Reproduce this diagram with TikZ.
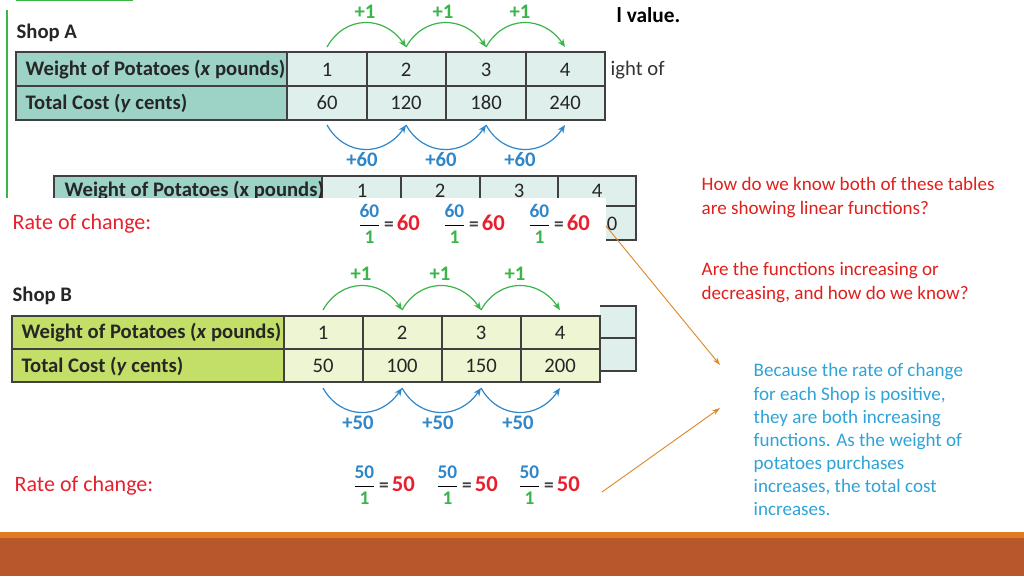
\documentclass[tikz,border=0pt]{standalone}
\usepackage{amsmath}
\usepackage{fontspec}
\setmainfont{Carlito}
\usetikzlibrary{arrows.meta}
\definecolor{tealH}{HTML}{9DD3C7}
\definecolor{tealC}{HTML}{DFF0EC}
\definecolor{limeH}{HTML}{C3DF68}
\definecolor{limeC}{HTML}{EEF5D2}
\definecolor{arcG}{HTML}{3BB54A}
\definecolor{arcB}{HTML}{2F86C8}
\definecolor{rocR}{HTML}{E8202E}
\definecolor{qRed}{HTML}{E0201C}
\definecolor{ansB}{HTML}{2FA3D8}
\definecolor{orgL}{HTML}{E0892A}
\definecolor{barL}{HTML}{E07B22}
\definecolor{barD}{HTML}{B8562C}
\newcommand{\rfrac}[2]{$\dfrac{\text{\textcolor{arcB}{\bfseries #1}}}{\text{\textcolor{arcG}{\bfseries 1}}}$\,\textcolor{black!75}{\bfseries =}\,{\fontsize{17}{19}\selectfont\textcolor{rocR}{#2}}}
\begin{document}
\begin{tikzpicture}[x=0.75pt,y=-0.75pt,
  tline/.style={draw=black!75,line width=1pt},
  ttext/.style={font=\fontsize{15.5}{17}\selectfont,text=black!85},
  hdtext/.style={font=\fontsize{15.5}{17}\selectfont\bfseries,text=black!85,anchor=west},
  lbl/.style={font=\fontsize{15.5}{17}\selectfont\bfseries,text=black!85,anchor=west},
  arcg/.style={draw=arcG,line width=0.9pt,-{Stealth[length=6pt,width=5pt]}},
  arcb/.style={draw=arcB,line width=0.9pt,-{Stealth[length=6pt,width=5pt]}},
  plusg/.style={font=\fontsize{15.5}{17}\selectfont\bfseries,text=arcG},
  plusb/.style={font=\fontsize{15.5}{17}\selectfont\bfseries,text=arcB},
  roc/.style={font=\fontsize{16.5}{18}\selectfont,text=rocR,anchor=west},
  frac/.style={font=\fontsize{14.5}{16}\selectfont\bfseries},
  qtext/.style={font=\fontsize{14.3}{17.3}\selectfont,text=qRed,anchor=north west,align=left},
  atext/.style={font=\fontsize{14.3}{17.3}\selectfont,text=ansB,anchor=north west,align=left},
  conn/.style={draw=orgL,line width=0.7pt,-{Stealth[length=6pt,width=4pt]}}]
\useasboundingbox (0,0) rectangle (1024,576);
\fill[white] (0,0) rectangle (1024,576);
\draw[arcG,line width=1pt] (16,0.5) -- (133,0.5);
\draw[arcG,line width=1pt] (7,10) -- (7,250);
\node[font=\fontsize{16}{18}\selectfont\bfseries,anchor=west] (lv) at (612,15) {l value.};
\node[font=\fontsize{15.5}{17}\selectfont,text=black!80,anchor=west] (io) at (606,70) {ight of};
% partial table behind
\fill[tealH] (54,176) rectangle (322,240);
\fill[tealC] (322,176) rectangle (636,240);
\draw[tline] (54,176) rectangle (636,240);
\draw[tline] (54,206)--(636,206);
\foreach \x in {322,401,480,558}{\draw[tline] (\x,176)--(\x,240);}
\node[hdtext] (ph) at (60,191) {Weight of Potatoes (x pounds)};
\foreach \v/\x in {1/362,2/440,3/519,4/597}{\node[ttext] (p\v) at (\x,191) {\v};}
\fill[white] (0,198) rectangle (606,252);
\node[ttext] (pz) at (612,224) {0};
% Shop A
\node[lbl] (sa) at (12,33) {Shop A};
\fill[tealH] (16,52) rectangle (287,120);
\fill[tealC] (287,52) rectangle (605,120);
\draw[tline] (16,52) rectangle (605,120);
\draw[tline] (16,86)--(605,86);
\foreach \x in {287,367,446,526}{\draw[tline] (\x,52)--(\x,120);}
\node[hdtext] (ah1) at (21,70) {Weight of Potatoes (\textit{x} pounds)};
\node[hdtext] (ah2) at (21,103) {Total Cost (\textit{y} cents)};
\foreach \v/\c/\x in {1/60/327,2/120/406,3/180/486,4/240/565}{
  \node[ttext] (ax\v) at (\x,70) {\v};
  \node[ttext] (ay\v) at (\x,103) {\c};}
\foreach \a/\b in {327/406,406/486,486/565}{
  \draw[arcg] (\a,47) .. controls (\a+18,15) and (\b-22,15) .. (\b,47);
  \draw[arcb] (\a,125) .. controls (\a+18,157) and (\b-22,157) .. (\b,125);}
\foreach \x [count=\i] in {365,443,520}{\node[plusg] (ag\i) at (\x,12) {+1};}
\foreach \x [count=\i] in {362,441,520}{\node[plusb] (ab\i) at (\x,160) {+60};}
\node[roc] (ra) at (8,224) {Rate of change:};
\foreach \x [count=\i] in {389,474,559}{\node[frac] (fa\i) at (\x,224) {\rfrac{60}{60}};}
% Shop B
\fill[tealC] (600,306) rectangle (636,371);
\draw[tline] (600,306)--(636,306)--(636,371)--(600,371);
\draw[tline] (600,338)--(636,338);
\node[lbl] (sb) at (8,296) {Shop B};
\fill[limeH] (12,316) rectangle (284,382);
\fill[limeC] (284,316) rectangle (600,382);
\draw[tline] (12,316) rectangle (600,382);
\draw[tline] (12,349)--(600,349);
\foreach \x in {284,363,442,521}{\draw[tline] (\x,316)--(\x,382);}
\node[hdtext] (bh1) at (17,333) {Weight of Potatoes (\textit{x} pounds)};
\node[hdtext] (bh2) at (17,366) {Total Cost (\textit{y} cents)};
\foreach \v/\c/\x in {1/50/323,2/100/402,3/150/481,4/200/560}{
  \node[ttext] (bx\v) at (\x,333) {\v};
  \node[ttext] (by\v) at (\x,366) {\c};}
\foreach \a/\b in {323/402,402/481,481/560}{
  \draw[arcg] (\a,310) .. controls (\a+18,278) and (\b-22,278) .. (\b,310);
  \draw[arcb] (\a,388) .. controls (\a+18,420) and (\b-22,420) .. (\b,388);}
\foreach \x [count=\i] in {361,440,515}{\node[plusg] (bg\i) at (\x,274) {+1};}
\foreach \x [count=\i] in {358,438,518}{\node[plusb] (bb\i) at (\x,423) {+50};}
\node[roc] (rb) at (10,486) {Rate of change:};
\foreach \x [count=\i] in {384,467,549}{\node[frac] (fb\i) at (\x,485) {\rfrac{50}{50}};}
% right texts
\node[qtext] (q1) at (697,173) {How do we know both of these tables\\are showing linear functions?};
\node[qtext] (q2) at (697,258) {Are the functions increasing or\\decreasing, and how do we know?};
\node[atext] (ans) at (749,359) {Because the rate of change\\for each Shop is positive,\\they are both increasing\\functions. As the weight of\\potatoes purchases\\increases, the total cost\\increases.};
\coordinate (s1) at (606,226);
\coordinate (e1) at (720,365);
\coordinate (s2) at (602,492);
\coordinate (e2) at (720,408);
\draw[conn] (s1) -- (e1);
\draw[conn] (s2) -- (e2);
% bottom bar
\fill[barL] (0,532) rectangle (1024,538);
\fill[barD] (0,538) rectangle (1024,576);
\end{tikzpicture}
\end{document}
